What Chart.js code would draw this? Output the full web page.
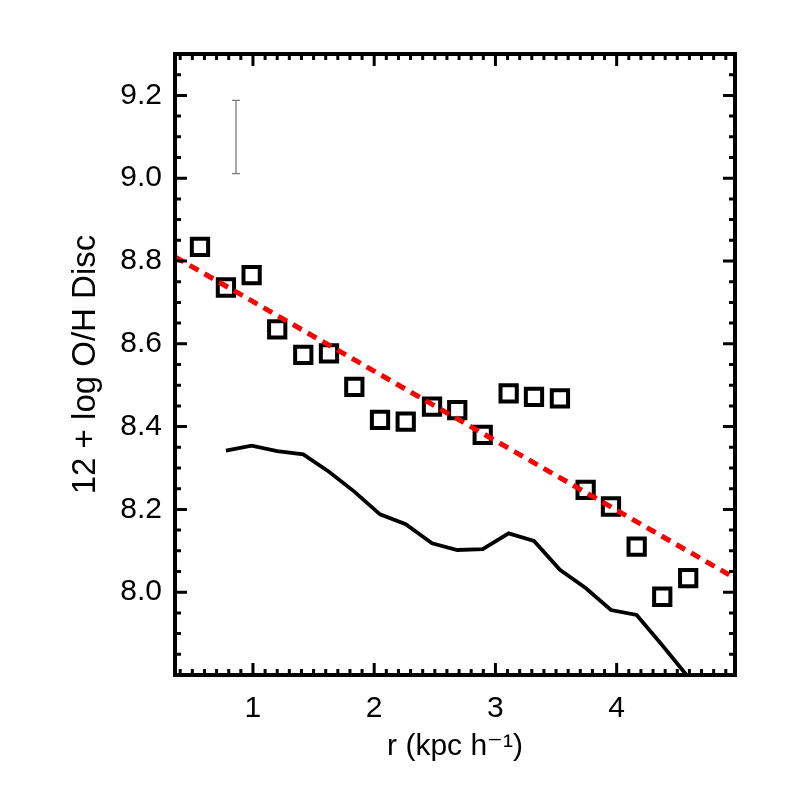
<!DOCTYPE html>
<html>
<head>
<meta charset="utf-8">
<script src="https://cdn.jsdelivr.net/npm/chart.js@4.4.1/dist/chart.umd.min.js"></script>
<style>
html,body{margin:0;padding:0;background:#fff;}
canvas{display:block;}
</style>
</head>
<body>
<canvas id="c" width="786" height="786"></canvas>
<script>
// ---- data ----
const squareX = [0.563,0.777,0.989,1.200,1.415,1.627,1.836,2.048,2.260,2.477,2.685,2.895,3.109,3.318,3.532,3.744,3.953,4.165,4.376,4.590];
const squareY = [8.834,8.736,8.766,8.635,8.573,8.577,8.496,8.416,8.412,8.448,8.440,8.380,8.480,8.472,8.468,8.247,8.207,8.110,7.989,8.034];
const lineX = [0.777,0.989,1.200,1.415,1.627,1.836,2.048,2.260,2.477,2.685,2.895,3.109,3.318,3.532,3.744,3.953,4.165,4.376,4.590];
const lineY = [8.342,8.354,8.341,8.333,8.291,8.243,8.188,8.164,8.118,8.102,8.104,8.142,8.124,8.054,8.010,7.957,7.945,7.872,7.795];
const fitX = [0.357,4.976];
const fitY = [8.810,8.034];
const errX = [0.86];
const errLo = [9.011];
const errHi = [9.188];
const xMajorTicks = [1,2,3,4];
const yMajorTicks = [8.0,8.2,8.4,8.6,8.8,9.0,9.2];
const xMinorStep = 0.1;
const yMinorStep = 0.05;
const xRange = [0.357,4.976];
const yRange = [7.8,9.3];
const xTitle = 'r (kpc h\u207B\u00B9)';
const yTitle = '12 + log O/H Disc';

const FONT = "'Liberation Sans', Arial, Helvetica, 'DejaVu Sans', sans-serif";

function pts(xs, ys){ return xs.map((x,i)=>({x:x, y:ys[i]})); }

const framePlugin = {
  id: 'frame',
  beforeDatasetsDraw(chart){
    const ctx = chart.ctx, xs = chart.scales.x, ys = chart.scales.y;
    ctx.save();
    ctx.strokeStyle = '#7a7a7a';
    ctx.lineWidth = 1.3;
    errX.forEach((ex,i)=>{
      const px = xs.getPixelForValue(ex);
      const p1 = ys.getPixelForValue(errLo[i]);
      const p2 = ys.getPixelForValue(errHi[i]);
      ctx.beginPath();
      ctx.moveTo(px,p1); ctx.lineTo(px,p2);
      ctx.moveTo(px-4,p1); ctx.lineTo(px+4,p1);
      ctx.moveTo(px-4,p2); ctx.lineTo(px+4,p2);
      ctx.stroke();
    });
    ctx.restore();
  },
  afterDatasetsDraw(chart){
    const ctx = chart.ctx, xs = chart.scales.x, ys = chart.scales.y;
    const a = chart.chartArea;
    ctx.save();
    ctx.strokeStyle = '#000';
    ctx.lineCap = 'butt';
    ctx.lineWidth = 3;
    ctx.beginPath();
    const nx0 = Math.ceil(xRange[0]/xMinorStep - 1e-6), nx1 = Math.floor(xRange[1]/xMinorStep + 1e-6);
    for(let n=nx0;n<=nx1;n++){
      const v = n*xMinorStep;
      const major = xMajorTicks.some(t=>Math.abs(t-v)<1e-6);
      const L = major ? 12 : 6;
      const px = xs.getPixelForValue(v);
      ctx.moveTo(px, a.bottom); ctx.lineTo(px, a.bottom - L);
      ctx.moveTo(px, a.top); ctx.lineTo(px, a.top + L);
    }
    const ny0 = Math.ceil(yRange[0]/yMinorStep - 1e-6), ny1 = Math.floor(yRange[1]/yMinorStep + 1e-6);
    for(let n=ny0;n<=ny1;n++){
      const v = n*yMinorStep;
      const major = yMajorTicks.some(t=>Math.abs(t-v)<1e-6);
      const L = major ? 12 : 6;
      const py = ys.getPixelForValue(v);
      ctx.moveTo(a.left, py); ctx.lineTo(a.left + L, py);
      ctx.moveTo(a.right, py); ctx.lineTo(a.right - L, py);
    }
    ctx.stroke();
    ctx.lineWidth = 4;
    ctx.strokeRect(a.left, a.top, a.right-a.left, a.bottom-a.top);
    ctx.restore();
  }
};

new Chart(document.getElementById('c'), {
  type: 'scatter',
  data: {
    datasets: [
      {
        label: 'fit',
        type: 'line',
        data: pts(fitX, fitY),
        borderColor: '#ff0000',
        borderWidth: 5,
        borderDash: [10,7],
        pointRadius: 0,
        fill: false
      },
      {
        label: 'disc',
        data: pts(squareX, squareY),
        pointStyle: 'rect',
        pointRadius: 11.5,
        pointHoverRadius: 11.5,
        borderWidth: 4,
        pointBorderWidth: 4,
        borderColor: '#000',
        backgroundColor: 'rgba(0,0,0,0)'
      },
      {
        label: 'model',
        type: 'line',
        data: pts(lineX, lineY),
        borderColor: '#000',
        borderWidth: 3.8,
        pointRadius: 0,
        tension: 0,
        fill: false
      }
    ]
  },
  options: {
    responsive: false,
    animation: false,
    devicePixelRatio: 1,
    layout: { padding: { left: 0, right: 51, top: 54, bottom: 0 } },
    plugins: { legend: { display: false }, tooltip: { enabled: false } },
    scales: {
      x: {
        type: 'linear',
        position: 'bottom',
        min: xRange[0], max: xRange[1],
        grid: { display: false, drawTicks: false },
        border: { display: false },
        afterBuildTicks(s){ s.ticks = xMajorTicks.map(v=>({value:v})); },
        afterFit(s){ s.height = 111; },
        ticks: {
          autoSkip: false, maxRotation: 0, padding: 16,
          color: '#000',
          font: { family: FONT, size: 30 },
          callback: v => String(v)
        },
        title: {
          display: true, text: xTitle, color: '#000',
          font: { family: FONT, size: 30 },
          padding: { top: 0, bottom: 21 }
        }
      },
      y: {
        type: 'linear',
        position: 'left',
        min: yRange[0], max: yRange[1],
        grid: { display: false, drawTicks: false },
        border: { display: false },
        afterBuildTicks(s){ s.ticks = yMajorTicks.map(v=>({value:v})); },
        afterFit(s){ s.width = 175; },
        ticks: {
          autoSkip: false, padding: 13,
          color: '#000',
          font: { family: FONT, size: 30 },
          callback: v => Number(v).toFixed(1)
        },
        title: {
          display: true, text: yTitle, color: '#000',
          font: { family: FONT, size: 33 },
          padding: { top: 66, bottom: 0 }
        }
      }
    }
  },
  plugins: [framePlugin]
});
</script>
</body>
</html>
